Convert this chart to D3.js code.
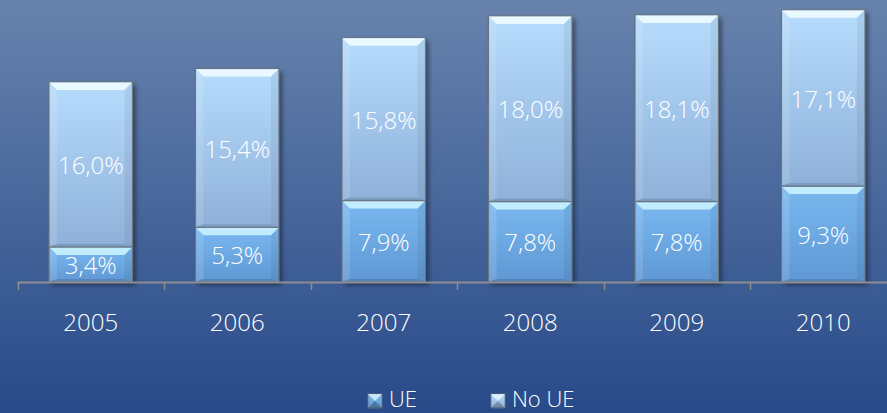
<!DOCTYPE html>
<html><head><meta charset="utf-8">
<script src="https://cdn.jsdelivr.net/npm/d3@7"></script>
<style>html,body{margin:0;padding:0;overflow:hidden;}svg{display:block;}</style>
</head><body>
<script>
const categories = ["2005","2006","2007","2008","2009","2010"];
const ue = [3.4, 5.3, 7.9, 7.8, 7.8, 9.3];
const noUe = [16.0, 15.4, 15.8, 18.0, 18.1, 17.1];
const seriesNames = ["UE", "No UE"];

const W = 887, H = 413;
const fontFam = "'Open Sans', 'DejaVu Sans', sans-serif";
const fw = 300;
const svg = d3.select("body").append("svg").attr("width", W).attr("height", H);
const defs = svg.append("defs");

const bg = defs.append("linearGradient").attr("id","bg").attr("x1",0).attr("y1",0).attr("x2",0).attr("y2",1);
bg.append("stop").attr("offset","0%").attr("stop-color","#6783ad");
bg.append("stop").attr("offset","100%").attr("stop-color","#284a89");
svg.append("rect").attr("width",W).attr("height",H).attr("fill","url(#bg)");

const gTop = defs.append("linearGradient").attr("id","gTop").attr("x1",0).attr("y1",0).attr("x2",0).attr("y2",1);
gTop.append("stop").attr("offset","0%").attr("stop-color","#b6dcfd");
gTop.append("stop").attr("offset","100%").attr("stop-color","#8fb1d9");
const gUe = defs.append("linearGradient").attr("id","gUe").attr("x1",0).attr("y1",0).attr("x2",0).attr("y2",1);
gUe.append("stop").attr("offset","0%").attr("stop-color","#7ab8f0");
gUe.append("stop").attr("offset","100%").attr("stop-color","#5f98d4");
const sh = defs.append("filter").attr("id","sh").attr("x","-20%").attr("y","-20%").attr("width","150%").attr("height","150%");
sh.append("feDropShadow").attr("dx",3).attr("dy",3).attr("stdDeviation",2.5).attr("flood-color","#000").attr("flood-opacity",0.45);

const x = d3.scaleBand().domain(categories).range([17.5, 896.5]).paddingInner(0.43).paddingOuter(0.215);
const xTick = d3.scaleBand().domain(categories).range([17.5, 896.5]);
const y = d3.scaleLinear().domain([0, 27]).range([282, 3.6]);

const data = categories.map((c,i)=>({c, segs:[
  {key:"UE", v:ue[i], y0:0, y1:ue[i], fill:"url(#gUe)", hi:"#c9f3ff"},
  {key:"No UE", v:noUe[i], y0:ue[i], y1:ue[i]+noUe[i], fill:"url(#gTop)", hi:"#eefcff"}
]}));

const bars = svg.append("g");
data.forEach(d=>{
  const g = bars.append("g");
  const x0 = x(d.c), bw = x.bandwidth();
  g.append("rect").attr("x",x0).attr("y",y(d.segs[1].y1)).attr("width",bw)
    .attr("height",y(0)-y(d.segs[1].y1)).attr("fill","#555").attr("filter","url(#sh)");
  d.segs.forEach(s=>{
    const yt = y(s.y1), yb = y(s.y0);
    g.append("rect").attr("x",x0).attr("y",yt).attr("width",bw).attr("height",yb-yt)
      .attr("fill",s.fill).attr("stroke","#6c7480").attr("stroke-width",1.2);
    const b = 8;
    g.append("path").attr("d",`M${x0+0.6},${yt+0.6} L${x0+bw-0.6},${yt+0.6} L${x0+bw-b},${yt+b} L${x0+b},${yt+b} Z`)
      .attr("fill",s.hi).attr("opacity",0.9);
    g.append("path").attr("d",`M${x0+0.6},${yt+0.6} L${x0+b},${yt+b} L${x0+b},${yb-3} L${x0+0.6},${yb-0.6} Z`)
      .attr("fill","#ffffff").attr("opacity",0.12);
    g.append("path").attr("d",`M${x0+bw-0.6},${yt+0.6} L${x0+bw-b},${yt+b} L${x0+bw-b},${yb-3} L${x0+bw-0.6},${yb-0.6} Z`)
      .attr("fill","#000").attr("opacity",0.06);
    g.append("path").attr("d",`M${x0+0.6},${yb-0.6} L${x0+b},${yb-3} L${x0+bw-b},${yb-3} L${x0+bw-0.6},${yb-0.6} Z`)
      .attr("fill","#000").attr("opacity",0.12);
    g.append("text").attr("x",x0+bw/2).attr("y",(yt+yb)/2+1).attr("dy","0.36em")
      .attr("text-anchor","middle").attr("fill","#ffffff").attr("font-family",fontFam).attr("font-weight",fw).attr("font-size",24)
      .text(s.v.toFixed(1).replace(".",",")+"%");
  });
});

// axis
const ax = svg.append("g");
ax.append("line").attr("x1",17.5).attr("x2",W).attr("y1",282.5).attr("y2",282.5).attr("stroke","#8d8d8d").attr("stroke-width",2);
categories.forEach(c=>{
  const tx = Math.round(xTick(c))+0.5;
  ax.append("line").attr("x1",tx).attr("x2",tx).attr("y1",282).attr("y2",290).attr("stroke","#8d8d8d").attr("stroke-width",1.5);
  ax.append("text").attr("x",xTick(c)+xTick.bandwidth()/2).attr("y",331).attr("text-anchor","middle")
    .attr("fill","#ffffff").attr("font-family",fontFam).attr("font-weight",fw).attr("font-size",24).text(c);
});

// legend
const lg = svg.append("g");
const legItems = [{n:seriesNames[0], fill:"url(#gUe)", x:368},{n:seriesNames[1], fill:"url(#gTop)", x:491}];
legItems.forEach(l=>{
  const s = 14, ly = 394;
  lg.append("rect").attr("x",l.x).attr("y",ly).attr("width",s).attr("height",s).attr("fill",l.fill).attr("stroke","#6c7480").attr("stroke-width",0.8);
  lg.append("path").attr("d",`M${l.x},${ly} L${l.x+s},${ly} L${l.x+s/2},${ly+s/2} Z`).attr("fill","#eefcff").attr("opacity",0.7);
  lg.append("path").attr("d",`M${l.x},${ly+s} L${l.x+s},${ly+s} L${l.x+s/2},${ly+s/2} Z`).attr("fill","#000").attr("opacity",0.25);
  lg.append("text").attr("x",l.x+s+7).attr("y",407).attr("fill","#ffffff").attr("font-family",fontFam).attr("font-weight",fw).attr("font-size",22).text(l.n);
});
</script>
</body></html>
